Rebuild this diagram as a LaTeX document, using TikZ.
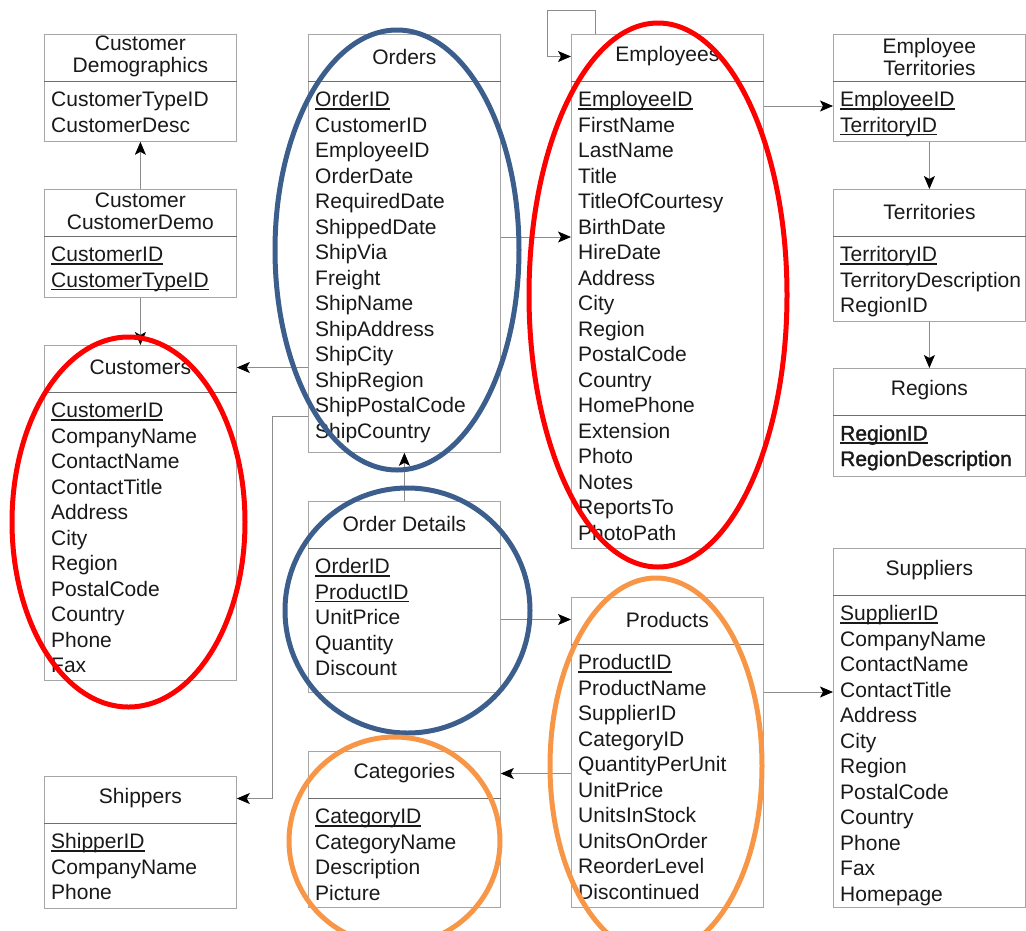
\documentclass[tikz,border=0pt]{standalone}
\usepackage{fontspec}
\setmainfont{Liberation Sans}
\newfontface\heavyface{Liberation Sans}[FakeBold=1.5]
\usetikzlibrary{calc,arrows.meta}

\definecolor{boxgray}{HTML}{A6A6A6}
\definecolor{rulegray}{HTML}{6E6E6E}
\definecolor{linkgray}{HTML}{8C8C8C}
\definecolor{ringred}{HTML}{FF0000}
\definecolor{ringblue}{HTML}{3C5E8C}
\definecolor{ringorange}{HTML}{F79646}

% primary key: underlined field name
\newcommand{\pkey}[1]{\setbox0\hbox{#1}\rlap{\rule[-3pt]{\wd0}{1.2pt}}#1}

% one table: name, north west corner, height, title, fields
\newcommand{\dbtable}[5]{%
  \node[tbl, minimum height=#3pt, anchor=north west] (#1) at #2 {};
  \node[ttl] (#1-title) at ($(#1.north)+(0,22.5)$) {#4};
  \draw[divider] ($(#1.north west)+(0,47.5)$) -- ($(#1.north east)+(0,47.5)$);
  \foreach \f [count=\i from 0] in {#5}
    \node[fld] (#1-\i) at ($(#1.north west)+(7,72.5+25.5*\i)$) {\f};
}

\begin{document}
\begin{tikzpicture}[x=1pt, y=-1pt,
    tbl/.style = {draw=boxgray, line width=0.8pt, minimum width=192pt, inner sep=0pt},
    ttl/.style = {font=\fontsize{21}{22}\selectfont, text=black!90, align=center, inner sep=0pt},
    fld/.style = {font=\fontsize{21}{25.5}\selectfont, text=black!90, anchor=base west, inner sep=0pt},
    divider/.style = {draw=rulegray, line width=0.8pt},
    link/.style = {draw=linkgray, line width=0.8pt, -{Stealth[length=13pt, width=11pt, inset=3pt, black]}},
    ring/.style = {line width=5pt}]
    \useasboundingbox (0,0) rectangle (1026,930);
    \clip (0,0) rectangle (1026,930);

    % left column
    \dbtable{cdemo}{(44,34)}{107}{Customer\\Demographics}{CustomerTypeID, CustomerDesc}
    \dbtable{ccdemo}{(44,189)}{108}{Customer\\CustomerDemo}{\pkey{CustomerID}, \pkey{CustomerTypeID}}
    \dbtable{customers}{(44,345)}{335}{Customers}{\pkey{CustomerID}, CompanyName, ContactName, ContactTitle, Address, City, Region, PostalCode, Country, Phone, Fax}
    \dbtable{shippers}{(44,776)}{132}{Shippers}{\pkey{ShipperID}, CompanyName, Phone}

    % middle column
    \dbtable{orders}{(308,34)}{418}{Orders}{\pkey{OrderID}, CustomerID, EmployeeID, OrderDate, RequiredDate, ShippedDate, ShipVia, Freight, ShipName, ShipAddress, ShipCity, ShipRegion, ShipPostalCode, ShipCountry}
    \dbtable{odetails}{(308,501)}{191}{Order Details}{\pkey{OrderID}, \pkey{ProductID}, UnitPrice, Quantity, Discount}
    \dbtable{categories}{(308,751)}{156}{Categories}{\pkey{CategoryID}, CategoryName, Description, Picture}
    \dbtable{employees}{(571,34)}{514}{Employees}{\pkey{EmployeeID}, FirstName, LastName, Title, TitleOfCourtesy, BirthDate, HireDate, Address, City, Region, PostalCode, Country, HomePhone, Extension, Photo, Notes, ReportsTo, PhotoPath}
    \dbtable{products}{(571,597)}{310}{Products}{\pkey{ProductID}, ProductName, SupplierID, CategoryID, QuantityPerUnit, UnitPrice, UnitsInStock, UnitsOnOrder, ReorderLevel, Discontinued}

    % right column
    \dbtable{empterr}{(833,34)}{107}{Employee\\Territories}{\pkey{EmployeeID}, \pkey{TerritoryID}}
    \dbtable{territories}{(833,189)}{132}{Territories}{\pkey{TerritoryID}, TerritoryDescription, RegionID}
    \dbtable{regions}{(833,368)}{108}{Regions}{{\heavyface\pkey{RegionID}}, {\heavyface RegionDescription}}
    \dbtable{suppliers}{(833,548)}{359}{Suppliers}{\pkey{SupplierID}, CompanyName, ContactName, ContactTitle, Address, City, Region, PostalCode, Country, Phone, Fax, Homepage}

    % relationships
    \coordinate (shipbend) at (272,416);
    \coordinate (hire) at (535,237);
    \coordinate (loop) at (547,10);
    \coordinate (empid) at (800,106);
    \coordinate (supp) at (800,692);
    \draw[link] (ccdemo.north) -- (cdemo.south);
    \draw[link] (ccdemo.south) -- (customers.north);
    \draw[link] (orders.west |- customers-title) -- (customers.east |- customers-title);
    \draw[link] (orders.west |- shipbend) -- (shipbend) |- (shippers.east |- shippers-title);
    \draw[link] (orders.east |- hire) -- (employees.west |- hire);
    \draw[link] (employees.north -| 595,0) |- (loop) |- (employees.west |- employees-title);
    \draw[link] (employees.east |- empid) -- (empterr.west |- empid);
    \draw[link] (empterr.south) -- (territories.north);
    \draw[link] (territories.south) -- (regions.north);
    \draw[link] (odetails.north) -- (orders.south);
    \draw[link] (odetails.east |- products-title) -- (products.west |- products-title);
    \draw[link] (products.west |- categories-title) -- (categories.east |- categories-title);
    \draw[link] (products.east |- supp) -- (suppliers.west |- supp);

    % highlight rings
    \draw[ring, ringblue] (397,250) ellipse [x radius=122, y radius=220];
    \draw[ring, ringblue] (407.5,610.5) ellipse [x radius=122.5, y radius=122.5];
    \draw[ring, ringred] (128.5,522) ellipse [x radius=116.5, y radius=185];
    \draw[ring, ringred] (658,295) ellipse [x radius=129, y radius=272];
    \draw[ring, ringorange] (394.5,841) ellipse [x radius=105.5, y radius=104];
    \draw[ring, ringorange] (656,766) ellipse [x radius=106, y radius=188];
\end{tikzpicture}
\end{document}
